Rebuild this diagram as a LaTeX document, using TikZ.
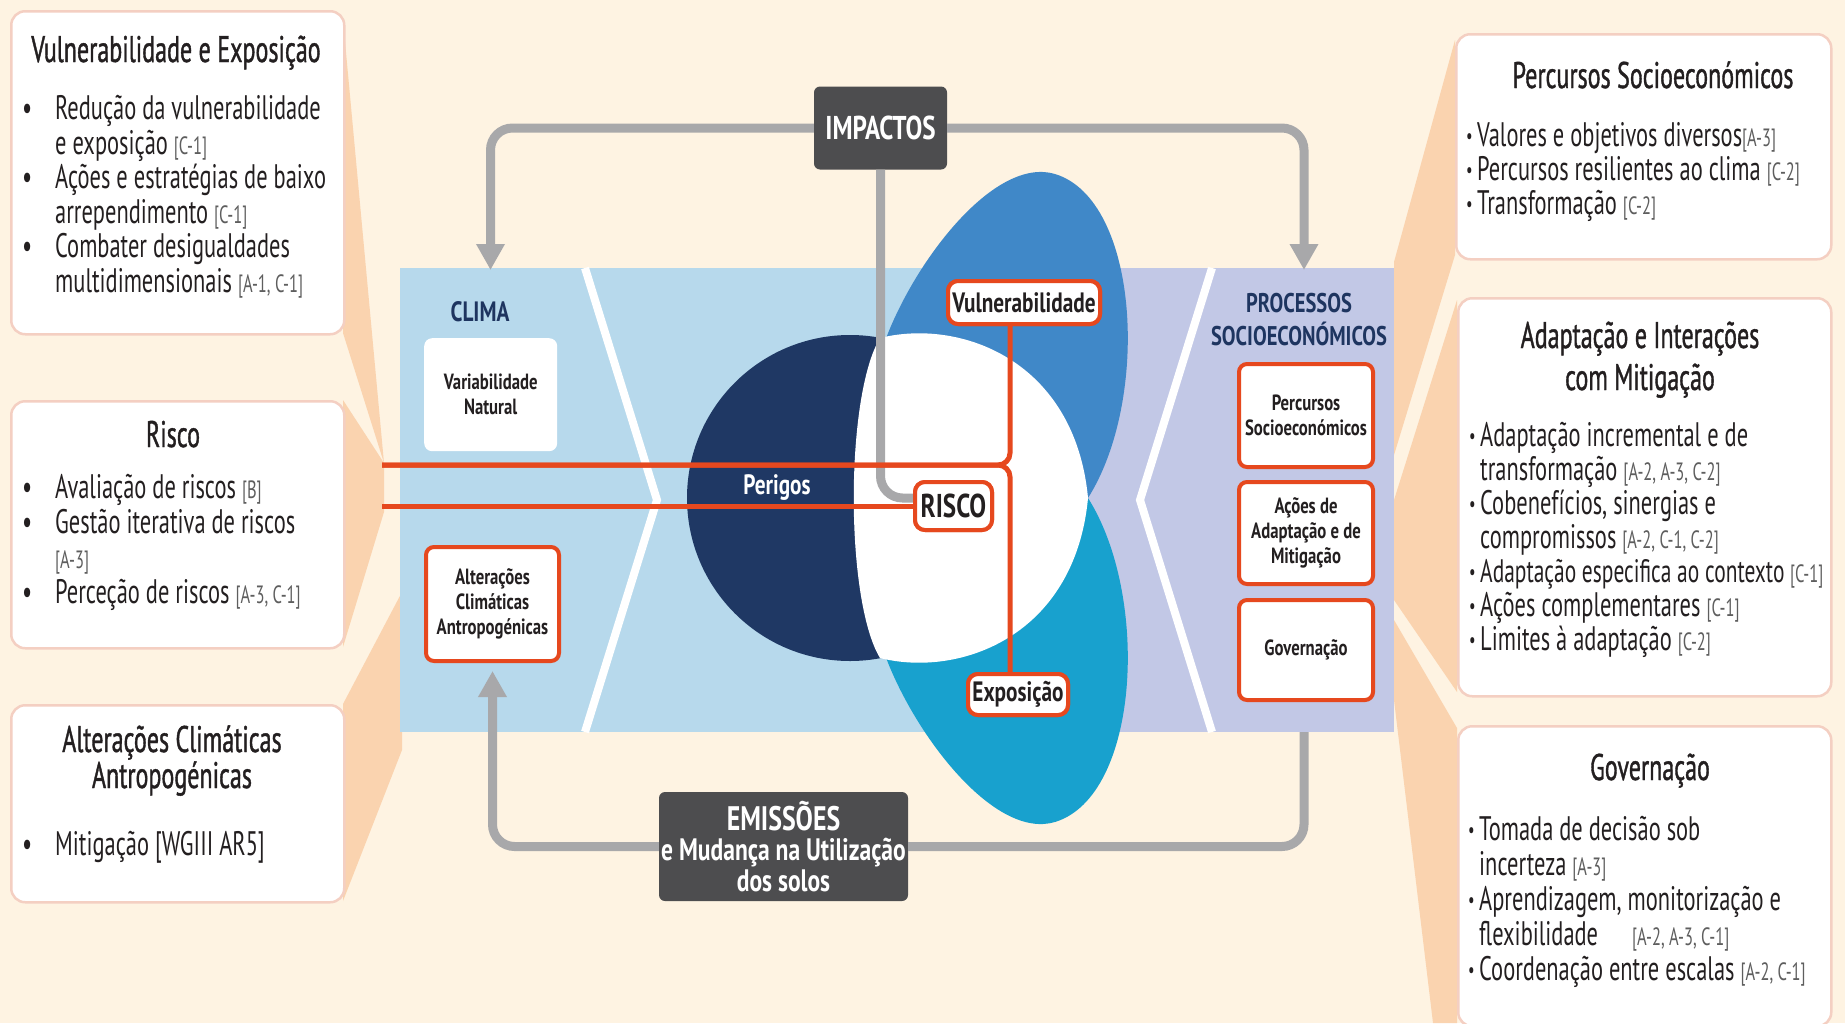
\documentclass[tikz,border=0pt]{standalone}
\usepackage{fontspec}
\setmainfont{PT Sans}[FakeStretch=0.66]
\newfontfamily\lblfont{PT Sans}[FakeStretch=0.76]
\newfontfamily\ttlfont{PT Sans}[FakeStretch=0.65, FakeBold=1]
\usetikzlibrary{arrows.meta,calc,positioning}
\definecolor{CreamBg}{HTML}{FEF3E2}
\definecolor{PeachWedge}{HTML}{FAD3AF}
\definecolor{ClimaBlue}{HTML}{B7D9EC}
\definecolor{ProcLav}{HTML}{C2C8E6}
\definecolor{HazNavy}{HTML}{1F3864}
\definecolor{VulBlue}{HTML}{4088C8}
\definecolor{ExpCyan}{HTML}{18A1CE}
\definecolor{RiskRed}{HTML}{E6481E}
\definecolor{ConnGray}{HTML}{A8A8AA}
\definecolor{BoxDark}{HTML}{4D4D4F}
\definecolor{RefGray}{HTML}{5E5E5E}
\definecolor{EdgePink}{HTML}{F4CFC2}
\definecolor{TextNavy}{HTML}{1E3560}
\definecolor{TextDark}{HTML}{231F20}
\newcommand{\bodyfnt}{\fontsize{34}{34.5}\selectfont}
\newcommand{\titlefnt}{\ttlfont\fontsize{37}{37}\selectfont}
\newcommand{\inboxfnt}{\lblfont\fontsize{22}{25}\selectfont\bfseries}
\newcommand{\lblfnt}[1]{\lblfont\fontsize{#1}{#1}\selectfont\bfseries}
\newcommand{\ipbul}{\makebox[33pt][l]{•}}
\newcommand{\ipind}{\hspace*{33pt}}
\newcommand{\ipsbul}{\makebox[11pt][l]{\raisebox{3pt}{\fontsize{22}{22}\selectfont•}}}
\newcommand{\ipsind}{\hspace*{11pt}}
\newcommand{\ipref}[1]{{\fontsize{25}{25}\selectfont\color{RefGray}[#1]}}
\tikzset{
    infobox/.style = {draw=EdgePink, line width=2.5pt, fill=white,
        rounded corners=14pt, anchor=north west, inner sep=0pt},
    boxtitle/.style = {font=\titlefnt, text=TextDark, anchor=base,
        align=center, inner sep=0pt},
    boxbody/.style = {font=\bodyfnt, text=TextDark, anchor=base west,
        align=left, inner sep=0pt},
    panelbox/.style = {fill=white, rounded corners=8pt, anchor=north west,
        inner sep=0pt, align=center, font=\inboxfnt, text=TextDark},
    redbox/.style = {panelbox, draw=RiskRed, line width=4pt},
    darkbox/.style = {fill=BoxDark, rounded corners=6pt, text=white,
        align=center, inner sep=0pt},
    risklabel/.style = {draw=RiskRed, line width=4pt, fill=white,
        rounded corners=10pt, inner sep=0pt, text=TextDark},
    chevron/.style = {draw=white, line width=8pt},
    gline/.style = {draw=ConnGray, line width=9pt, rounded corners=22pt},
    garrow/.style = {gline, -{Triangle[width=27pt,length=26pt]}},
    redline/.style = {draw=RiskRed, line width=5pt}
}
\begin{document}
\begin{tikzpicture}[x=1pt,y=-1pt]
    \useasboundingbox (0,0) rectangle (1845,1023);
    \fill[CreamBg] (0,0) rectangle (1845,1023);
    % wedges
    \fill[PeachWedge] (343,20) -- (384,463) -- (343,333) -- cycle;
    \fill[PeachWedge] (343,400) -- (384,463) -- (384,512) -- (343,647) -- cycle;
    \fill[PeachWedge] (343,704) -- (402,592) -- (402,750) -- (343,901) -- cycle;
    \fill[PeachWedge] (1455,40) -- (1455,255) -- (1394,455) -- (1394,262) -- cycle;
    \fill[PeachWedge] (1457,300) -- (1457,692) -- (1394,600) -- (1394,500) -- cycle;
    \fill[PeachWedge] (1457,728) -- (1457,1023) -- (1433,1023) -- (1394,700) -- (1394,620) -- cycle;
    % panel
    \fill[ClimaBlue] (400,268) rectangle (1394,732);
    \fill[ProcLav] (1085,268) rectangle (1394,732);
    \draw[chevron] (585,268) -- (657,500) -- (585,732);
    \draw[chevron] (1212,268) -- (1140,500) -- (1212,732);
    % petals
    \fill[VulBlue] (1088,498) .. controls (1150,400) and (1140,200) .. (1055,174)
        .. controls (995,156) and (915,260) .. (885,341)
        .. controls (870,390) and (860,440) .. (860,498) -- cycle;
    \fill[ExpCyan] (1088,498) .. controls (1150,596) and (1140,796) .. (1055,822)
        .. controls (995,840) and (915,736) .. (885,655)
        .. controls (870,606) and (860,556) .. (860,498) -- cycle;
    \fill[HazNavy] (850,498) circle[radius=163pt];
    \fill[white] (880,338) .. controls (960,318) and (1075,360) .. (1088,498)
        .. controls (1075,636) and (960,678) .. (880,658)
        .. controls (845,600) and (845,396) .. cycle;
    \node[font=\lblfnt{28}, text=white] (perigos) at (777,488) {Perigos};
    \node[font=\lblfnt{28}, text=TextNavy] (clima) at (480,312) {CLIMA};
    \node[font=\lblfont\fontsize{27}{33}\selectfont\bfseries, text=TextNavy, align=center] (procsoc) at (1299,320) {PROCESSOS\\SOCIOECONÓMICOS};
    % boxes inside the panel
    \node[panelbox, minimum width=133pt, minimum height=113pt] (varnat) at (424,338) {Variabilidade\\Natural};
    \node[redbox, minimum width=133pt, minimum height=114pt] (altclim) at (424,545) {Alterações\\Climáticas\\Antropogénicas};
    \node[redbox, minimum width=134pt, minimum height=103pt] (percsoc) at (1237,362) {Percursos\\Socioeconómicos};
    \node[redbox, minimum width=134pt, minimum height=102pt] (acoes) at (1237,480) {Ações de\\Adaptação e de\\Mitigação};
    \node[redbox, minimum width=134pt, minimum height=100pt] (govern) at (1237,598) {Governação};
    % top and bottom boxes
    \node[darkbox, minimum width=133pt, minimum height=83pt, font=\lblfnt{33}] (impactos) at (880.5,128) {IMPACTOS};
    \node[darkbox, minimum width=249pt, minimum height=109pt, font=\lblfont\fontsize{31}{30.5}\selectfont\bfseries] (emissoes) at (783.5,846.5)
        {{\fontsize{34}{30.5}\selectfont EMISSÕES}\\
         e Mudança na Utilização\\
         dos solos};
    % risk labels
    \node[risklabel, minimum width=152pt, minimum height=43pt, font=\lblfnt{28}] (vul) at (1024,302.5) {Vulnerabilidade};
    \node[risklabel, minimum width=77pt, minimum height=48pt, font=\lblfnt{33}] (risco) at (953.5,506) {RISCO};
    \node[risklabel, minimum width=100pt, minimum height=41pt, font=\lblfnt{28}] (expo) at (1018,694.5) {Exposição};
    % connectors
    \coordinate (climain) at (490.5,270);
    \coordinate (procin) at (1304,270);
    \coordinate (procout) at (1304,732);
    \coordinate (redtop) at (382,465);
    \coordinate (redbot) at (382,506);
    \coordinate (rjoin) at (1010,465);
    \draw[garrow] (impactos.west) -| (climain);
    \draw[garrow] (impactos.east) -| (procin);
    \draw[gline] (impactos.south) |- ([yshift=8pt]risco.west);
    \draw[garrow, shorten >=8pt] (emissoes.west) -| (altclim.south);
    \draw[gline] (procout) |- (emissoes.east);
    \draw[redline] (redbot) -- (risco.west);
    \draw[redline, rounded corners=12pt] (rjoin |- vul.south) -- (rjoin) -- (redtop);
    \draw[redline, rounded corners=12pt] (rjoin |- expo.north) -- (rjoin) -- (redtop);
    \node[risklabel, minimum width=152pt, minimum height=43pt, font=\lblfnt{28}] at (vul) {Vulnerabilidade};
    \node[risklabel, minimum width=77pt, minimum height=48pt, font=\lblfnt{33}] at (risco) {RISCO};
    \node[risklabel, minimum width=100pt, minimum height=41pt, font=\lblfnt{28}] at (expo) {Exposição};
    % left boxes (base = last line)
    \node[infobox, minimum width=333pt, minimum height=323pt] (vulexpbox) at (10,10) {};
    \node[boxtitle] (vulexptit) at (176,62) {Vulnerabilidade e Exposição};
    \node[boxbody] (vulexptxt) at (22,292) {\ipbul Redução da vulnerabilidade\\
        \ipind e exposição \ipref{C-1}\\
        \ipbul Ações e estratégias de baixo\\
        \ipind arrependimento \ipref{C-1}\\
        \ipbul Combater desigualdades\\
        \ipind multidimensionais \ipref{A-1, C-1}};
    \node[infobox, minimum width=333pt, minimum height=247pt] (riscobox) at (10,400) {};
    \node[boxtitle] (riscotit) at (173,447) {Risco};
    \node[boxbody, font=\fontsize{34}{35}\selectfont] (riscotxt) at (22,603) {\ipbul Avaliação de riscos \ipref{B}\\
        \ipbul Gestão iterativa de riscos\\
        \ipind\ipref{A-3}\\
        \ipbul Perceção de riscos \ipref{A-3, C-1}};
    \node[infobox, minimum width=333pt, minimum height=197pt] (acabox) at (10,704) {};
    \node[boxtitle, font=\ttlfont\fontsize{37}{36}\selectfont] (acatit) at (172,788) {Alterações Climáticas\\Antropogénicas};
    \node[boxbody] (acatxt) at (22,855) {\ipbul Mitigação [WGIII AR5]};
    % right boxes
    \node[infobox, minimum width=375pt, minimum height=225pt] (percbox) at (1455,33) {};
    \node[boxtitle] (perctit) at (1653,88) {Percursos Socioeconómicos};
    \node[boxbody, font=\fontsize{34}{34}\selectfont] (perctxt) at (1466,214) {\ipsbul Valores e objetivos diversos\ipref{A-3}\\
        \ipsbul Percursos resilientes ao clima \ipref{C-2}\\
        \ipsbul Transformação \ipref{C-2}};
    \node[infobox, minimum width=373pt, minimum height=398pt] (adapbox) at (1457,297) {};
    \node[boxtitle, font=\ttlfont\fontsize{37}{42}\selectfont] (adaptit) at (1640,390) {Adaptação e Interações\\com Mitigação};
    \node[boxbody, font=\fontsize{34}{34}\selectfont] (adaptxt) at (1469,650) {\ipsbul Adaptação incremental e de\\
        \ipsind transformação \ipref{A-2, A-3, C-2}\\
        \ipsbul Cobenefícios, sinergias e\\
        \ipsind compromissos \ipref{A-2, C-1, C-2}\\
        \ipsbul {\fontsize{32.5}{34}\selectfont Adaptação especifica ao contexto}\,\ipref{C-1}\\
        \ipsbul Ações complementares \ipref{C-1}\\
        \ipsbul Limites à adaptação \ipref{C-2}};
    \node[infobox, minimum width=373pt, minimum height=300pt] (govbox) at (1457,725) {};
    \node[boxtitle] (govtit) at (1650,780) {Governação};
    \node[boxbody, font=\fontsize{34}{35}\selectfont] (govtxt) at (1468,980) {\ipsbul Tomada de decisão sob\\
        \ipsind incerteza \ipref{A-3}\\
        \ipsbul Aprendizagem, monitorização e\\
        \ipsind flexibilidade\quad\ipref{A-2, A-3, C-1}\\
        \ipsbul Coordenação entre escalas \ipref{A-2, C-1}};
\end{tikzpicture}
\end{document}
